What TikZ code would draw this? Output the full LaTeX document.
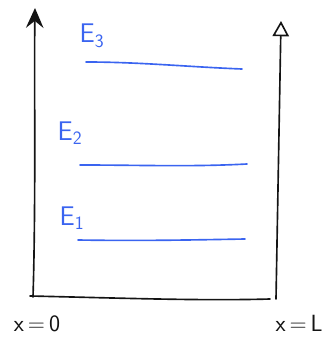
\documentclass[tikz,border=0pt]{standalone}
\usepackage{tikz}
\usetikzlibrary{arrows.meta,positioning}
\definecolor{LevelBlue}{RGB}{58,100,240}
\definecolor{InkDark}{RGB}{20,20,20}

\begin{document}
\begin{tikzpicture}[x=0.03cm, y=-0.03cm,
    wall/.style={InkDark, line width=1.4pt, line cap=round},
    level/.style={LevelBlue, line width=1.4pt, line cap=round},
    elabel/.style={font=\sffamily\fontsize{23}{25}\selectfont, text=LevelBlue, inner sep=0pt},
    xlabel/.style={font=\sffamily\fontsize{20}{22}\selectfont, text=InkDark, inner sep=0pt}
  ]
    \useasboundingbox (0,0) rectangle (333,337);

    % well walls
    \coordinate (lbot) at (33,297);
    \coordinate (ltop) at (35,8);
    \coordinate (rbot) at (276,299);
    \coordinate (rtop) at (281,21);

    \draw[wall, -{Stealth[length=17pt, width=15pt, inset=6pt]}] (lbot) .. controls (36,200) and (34,80) .. (ltop);
    \draw[wall, -{Triangle[open, length=13pt, width=14pt, line width=1.4pt]}] (rbot) -- (rtop);
    \draw[wall] (30,296) .. controls (120,298) and (200,301) .. (270,299);

    % energy levels
    \coordinate (e3l) at (86,62);  \coordinate (e3r) at (242,69);
    \coordinate (e2l) at (80,165); \coordinate (e2r) at (247,164);
    \coordinate (e1l) at (78,240); \coordinate (e1r) at (245,239);

    \draw[level] (e3l) .. controls (140,62) and (190,67) .. (e3r);
    \draw[level] (e2l) .. controls (140,165) and (190,167) .. (e2r);
    \draw[level] (e1l) .. controls (140,241) and (190,240) .. (e1r);

    \node[elabel] (E3) at (92,36) {E\textsubscript{3}};
    \node[elabel] (E2) at (70,133) {E\textsubscript{2}};
    \node[elabel] (E1) at (72,218) {E\textsubscript{1}};

    % positions
    \node[xlabel] (x0) at (37,324) {x\,=\,0};
    \node[xlabel] (xL) at (299,323) {x\,=\,L};
  \end{tikzpicture}
\end{document}
